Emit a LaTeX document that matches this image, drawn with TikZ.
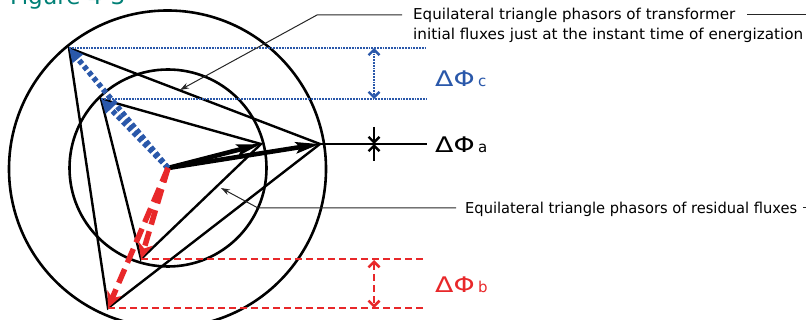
\documentclass[tikz,border=0pt]{standalone}
\usepackage{fontspec}
\setmainfont{DejaVu Sans}
\usetikzlibrary{arrows.meta}
\definecolor{phblue}{RGB}{42,88,170}
\definecolor{phred}{RGB}{232,40,42}
\definecolor{titleteal}{RGB}{0,128,118}
\begin{document}
\begin{tikzpicture}[x=1pt,y=-1pt,
  circ/.style={line width=2.6pt},
  tri/.style={line width=2.4pt, line join=miter},
  blackph/.style={line width=4.6pt, -{Stealth[length=24pt,width=11pt,inset=4pt]}},
  blueph/.style={phblue, line width=5.5pt, dash pattern=on 4.5pt off 3pt, -{Triangle[length=14pt,width=13pt]}},
  redph/.style={phred, line width=5.5pt, dash pattern=on 15pt off 7pt, -{Stealth[length=16pt,width=15pt,inset=5pt]}},
  bluedot/.style={phblue, line width=2.4pt, dash pattern=on 1.8pt off 1pt},
  reddash/.style={phred, line width=2.5pt, dash pattern=on 7pt off 4pt},
  blackline/.style={line width=2.4pt},
  dimtip/.style={line width=2.4pt, -{Straight Barb[length=5.5pt,width=11pt]}},
  dimboth/.style={line width=2.4pt, {Straight Barb[length=5.5pt,width=11pt]}-{Straight Barb[length=5.5pt,width=11pt]}},
  leader/.style={line width=1pt, black!85},
  leadtip/.style={leader, -{Stealth[length=9pt,width=6pt]}},
  ann/.style={font=\fontsize{15}{18}\selectfont, anchor=base west, inner sep=0pt},
  dlabel/.style={font=\fontsize{21.5}{24}\selectfont, anchor=base west, inner sep=0pt}
]
\useasboundingbox (0,0) rectangle (806,320);
\clip (0,0) rectangle (806,320);

% title (cut by the top edge)
\node[font=\fontsize{23}{26}\selectfont, text=titleteal, anchor=base west, inner sep=0pt] (title) at (10,5) {Figure 4-3};

% geometry
\coordinate (O) at (168,168);
\coordinate (Oc) at (167.5,169);
\coordinate (A1) at (69,48);
\coordinate (B1) at (320,144);
\coordinate (C1) at (108,308);
\coordinate (A2) at (101,99);
\coordinate (B2) at (261,144);
\coordinate (C2) at (141,259);
\coordinate (Xr) at (427,0);
\coordinate (Xd) at (424,0);

% circles
\draw[circ] (Oc) circle[radius=158.5];
\draw[circ] (O) circle[radius=98.5];

% triangles
\draw[tri] (A1) -- (B1) -- (C1) -- cycle;
\draw[tri] (A2) -- (B2) -- (C2) -- cycle;

% horizontal reference lines
\draw[bluedot] (A1) -- (A1 -| Xr);
\draw[bluedot] (A2) -- (A2 -| Xr);
\draw[blackline] (B1) -- (B1 -| Xr);
\draw[reddash] (C2) -- (C2 -| Xd);
\draw[reddash] (C1) -- (C1 -| Xd);

% dimension arrows
\coordinate (dc1) at (374,48);
\coordinate (dc2) at (374,99);
\coordinate (da0) at (374,144);
\coordinate (da1) at (374,127);
\coordinate (da2) at (374,161);
\coordinate (db1) at (374,260);
\coordinate (db2) at (374,308);
\draw[dimboth, bluedot] (dc1) -- (dc2);
\draw[dimtip] (da1) -- (da0);
\draw[dimtip] (da2) -- (da0);
\draw[dimboth, reddash] (db1) -- (db2);

% labels
\node[dlabel, text=phblue] (lc) at (435,87) {\scalebox{1.25}[1]{ΔΦ}\hspace{3.5pt}{\fontsize{15}{17}\selectfont c}};
\node[dlabel] (la) at (435,153) {\scalebox{1.25}[1]{ΔΦ}\hspace{3.5pt}{\fontsize{15}{17}\selectfont a}};
\node[dlabel, text=phred] (lb) at (435,293) {\scalebox{1.25}[1]{ΔΦ}\hspace{3.5pt}{\fontsize{15}{17}\selectfont b}};

% phasors
\draw[blackph] (O) -- (B2);
\draw[blackph] (O) -- (B1);
\draw[blueph] (O) -- (A2);
\draw[blueph] (O) -- (A1);
\draw[redph] (O) -- (C2);
\draw[redph] (O) -- (C1);

% annotations
\node[ann] (t1) at (413,20) {\resizebox{322pt}{\height}{Equilateral triangle phasors of transformer}};
\node[ann] (t2) at (413,39.3) {\resizebox{390pt}{\height}{initial fluxes just at the instant time of energization}};
\node[ann] (t3) at (465,214) {\resizebox{332pt}{\height}{Equilateral triangle phasors of residual fluxes}};

\coordinate (L1a) at (402,15);
\coordinate (L1b) at (317,15);
\coordinate (L1tip) at (180,90);
\coordinate (L1r1) at (747,15);
\coordinate (L1r2) at (806,15);
\draw[leadtip] (L1a) -- (L1b) -- (L1tip);
\draw[leader] (L1r1) -- (L1r2);

\coordinate (L2a) at (456,208);
\coordinate (L2b) at (258,208);
\coordinate (L2tip) at (221,188);
\coordinate (L2r1) at (803,208);
\coordinate (L2r2) at (806,208);
\draw[leadtip] (L2a) -- (L2b) -- (L2tip);
\draw[leader] (L2r1) -- (L2r2);
\end{tikzpicture}
\end{document}
